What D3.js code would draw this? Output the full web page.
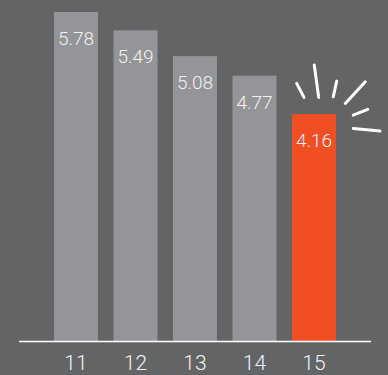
<!DOCTYPE html>
<html>
<head>
<meta charset="utf-8">
<script src="https://cdn.jsdelivr.net/npm/d3@7"></script>
<style>
  html, body { margin: 0; padding: 0; background: #636466; }
  svg { display: block; }
</style>
</head>
<body>
<div id="chart"></div>
<script>
// chart data
var years = ["11", "12", "13", "14", "15"];
var values = [5.78, 5.49, 5.08, 4.77, 4.16];
var highlightYear = "15";

var svgWidth = 388;
var svgHeight = 375;
var baseline = 341;

var svg = d3.select("#chart")
  .append("svg")
  .attr("width", svgWidth)
  .attr("height", svgHeight);

svg.append("rect")
  .attr("width", svgWidth)
  .attr("height", svgHeight)
  .attr("fill", "#636466");

var xScale = d3.scaleBand()
  .domain(years)
  .range([46.25, 343.75])
  .paddingInner(0.26)
  .paddingOuter(0.13);

// axis doesn't start at zero in the original
var yScale = d3.scaleLinear()
  .domain([0.56, 5.78])
  .range([baseline, 12]);

var data = years.map(function(y, i) { return { year: y, value: values[i] }; });

svg.selectAll(".bar")
  .data(data)
  .enter()
  .append("rect")
  .attr("class", "bar")
  .attr("x", d => xScale(d.year))
  .attr("y", d => yScale(d.value))
  .attr("width", xScale.bandwidth())
  .attr("height", d => baseline - yScale(d.value))
  .attr("fill", d => d.year === highlightYear ? "#f04e23" : "#939598");

svg.selectAll(".val")
  .data(data)
  .enter()
  .append("text")
  .attr("class", "val")
  .attr("x", d => xScale(d.year) + xScale.bandwidth() / 2)
  .attr("y", d => yScale(d.value) + 33)
  .attr("text-anchor", "middle")
  .attr("font-family", "Roboto, Liberation Sans, sans-serif")
  .attr("font-weight", 300)
  .attr("font-size", "19px")
  .attr("fill", "#f2f2f2")
  .text(d => d.value.toFixed(2));

// x axis line + labels
svg.append("line")
  .attr("x1", 19)
  .attr("x2", 371)
  .attr("y1", baseline + 0.5)
  .attr("y2", baseline + 0.5)
  .attr("stroke", "#ffffff")
  .attr("stroke-width", 1.5);

// labels sit right at the bottom edge, pulled up a touch so they aren't clipped
svg.selectAll(".tick")
  .data(years)
  .enter()
  .append("text")
  .attr("class", "tick")
  .attr("x", d => xScale(d) + xScale.bandwidth() / 2)
  .attr("y", 369.5)
  .attr("text-anchor", "middle")
  .attr("font-family", "Roboto, Liberation Sans, sans-serif")
  .attr("font-weight", 300)
  .attr("font-size", "21px")
  .attr("fill", "#f2f2f2")
  .text(d => d);

// burst strokes around the highlighted bar (offsets from its top-left corner)
var bx = xScale(highlightYear);
var by = yScale(values[years.indexOf(highlightYear)]);
var burst = [
  [4.7, -30.7, 12, -16.7],
  [22.3, -49, 26.7, -16.7],
  [44.7, -33, 41.3, -17.3],
  [73.3, -32.3, 53.3, -10.7],
  [75.7, -4.7, 61.3, 1],
  [61.3, 14.3, 88, 17]
];

svg.selectAll(".burst")
  .data(burst)
  .enter()
  .append("line")
  .attr("class", "burst")
  .attr("x1", d => bx + d[0])
  .attr("y1", d => by + d[1])
  .attr("x2", d => bx + d[2])
  .attr("y2", d => by + d[3])
  .attr("stroke", "#ffffff")
  .attr("stroke-width", 3)
  .attr("stroke-linecap", "round");
</script>
</body>
</html>
